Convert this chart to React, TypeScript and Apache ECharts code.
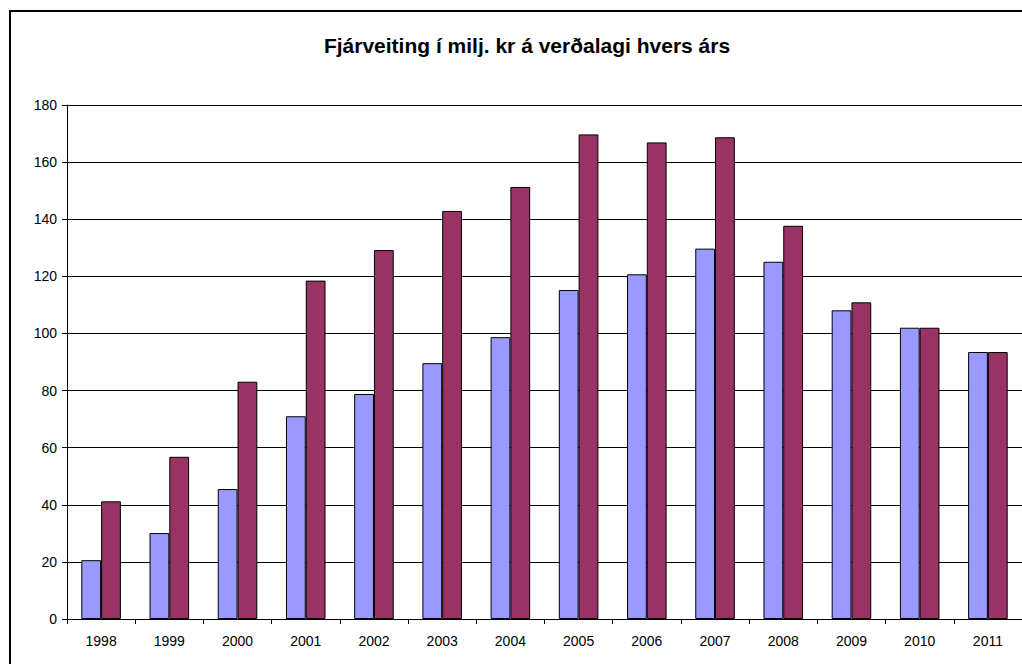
import React, { useEffect, useRef } from "react";
import * as echarts from "echarts";

const title = "Fjárveiting í milj. kr á verðalagi hvers árs";
const years = ["1998", "1999", "2000", "2001", "2002", "2003", "2004", "2005", "2006", "2007", "2008", "2009", "2010", "2011"];
const seriesA = [20.6, 30.1, 45.5, 71.0, 78.8, 89.6, 98.7, 115.2, 120.7, 129.7, 125.1, 108.1, 102.0, 93.5];
const seriesB = [41.2, 56.8, 83.1, 118.5, 129.2, 142.9, 151.3, 169.7, 166.9, 168.7, 137.7, 110.9, 102.0, 93.5];
const yMin = 0;
const yMax = 180;
const yStep = 20;

export default function App() {
  const ref = useRef<HTMLDivElement>(null);
  useEffect(() => {
    if (!ref.current) return;
    const chart = echarts.init(ref.current, null, { renderer: "svg" });
    const font = "'Liberation Sans', Arial, sans-serif";
    chart.setOption({
      animation: false,
      backgroundColor: "#ffffff",
      textStyle: { fontFamily: font },
      graphic: [
        {
          type: "polyline",
          shape: { points: [[10, 700], [10, 11], [1100, 11]] },
          style: { fill: "none", stroke: "#000", lineWidth: 2 },
          silent: true,
        },
        {
          type: "text",
          x: 527,
          y: 45,
          style: {
            text: title,
            font: "bold 21px 'Liberation Sans', Arial, sans-serif",
            fill: "#000",
            textAlign: "center",
            textVerticalAlign: "middle",
          },
        },
      ],
      grid: { left: 67, right: 0, top: 105, bottom: 45, containLabel: false },
      xAxis: {
        type: "category",
        data: years,
        axisLine: { show: true, lineStyle: { color: "#000", width: 1 } },
        axisTick: { show: true, length: 5, alignWithLabel: false, lineStyle: { color: "#000" } },
        axisLabel: { color: "#000", fontSize: 14, margin: 15, fontFamily: font },
        splitLine: { show: false },
      },
      yAxis: {
        type: "value",
        min: yMin,
        max: yMax,
        interval: yStep,
        axisLine: { show: true, lineStyle: { color: "#000", width: 1 } },
        axisTick: { show: true, length: 5, lineStyle: { color: "#000" } },
        axisLabel: { color: "#000", fontSize: 14, margin: 10, fontFamily: font },
        splitLine: { show: true, lineStyle: { color: "#000", width: 1 } },
      },
      series: [
        {
          type: "bar",
          data: seriesA,
          barGap: "0%",
          barCategoryGap: "42%",
          itemStyle: { color: "#9999FF", borderColor: "#000", borderWidth: 1 },
        },
        {
          type: "bar",
          data: seriesB,
          barGap: "0%",
          barCategoryGap: "42%",
          itemStyle: { color: "#993366", borderColor: "#000", borderWidth: 1 },
        },
      ],
    });
    return () => chart.dispose();
  }, []);
  return (
    <div
      ref={ref}
      style={{ position: "absolute", left: 0, top: 0, width: 1022, height: 664 }}
    />
  );
}
